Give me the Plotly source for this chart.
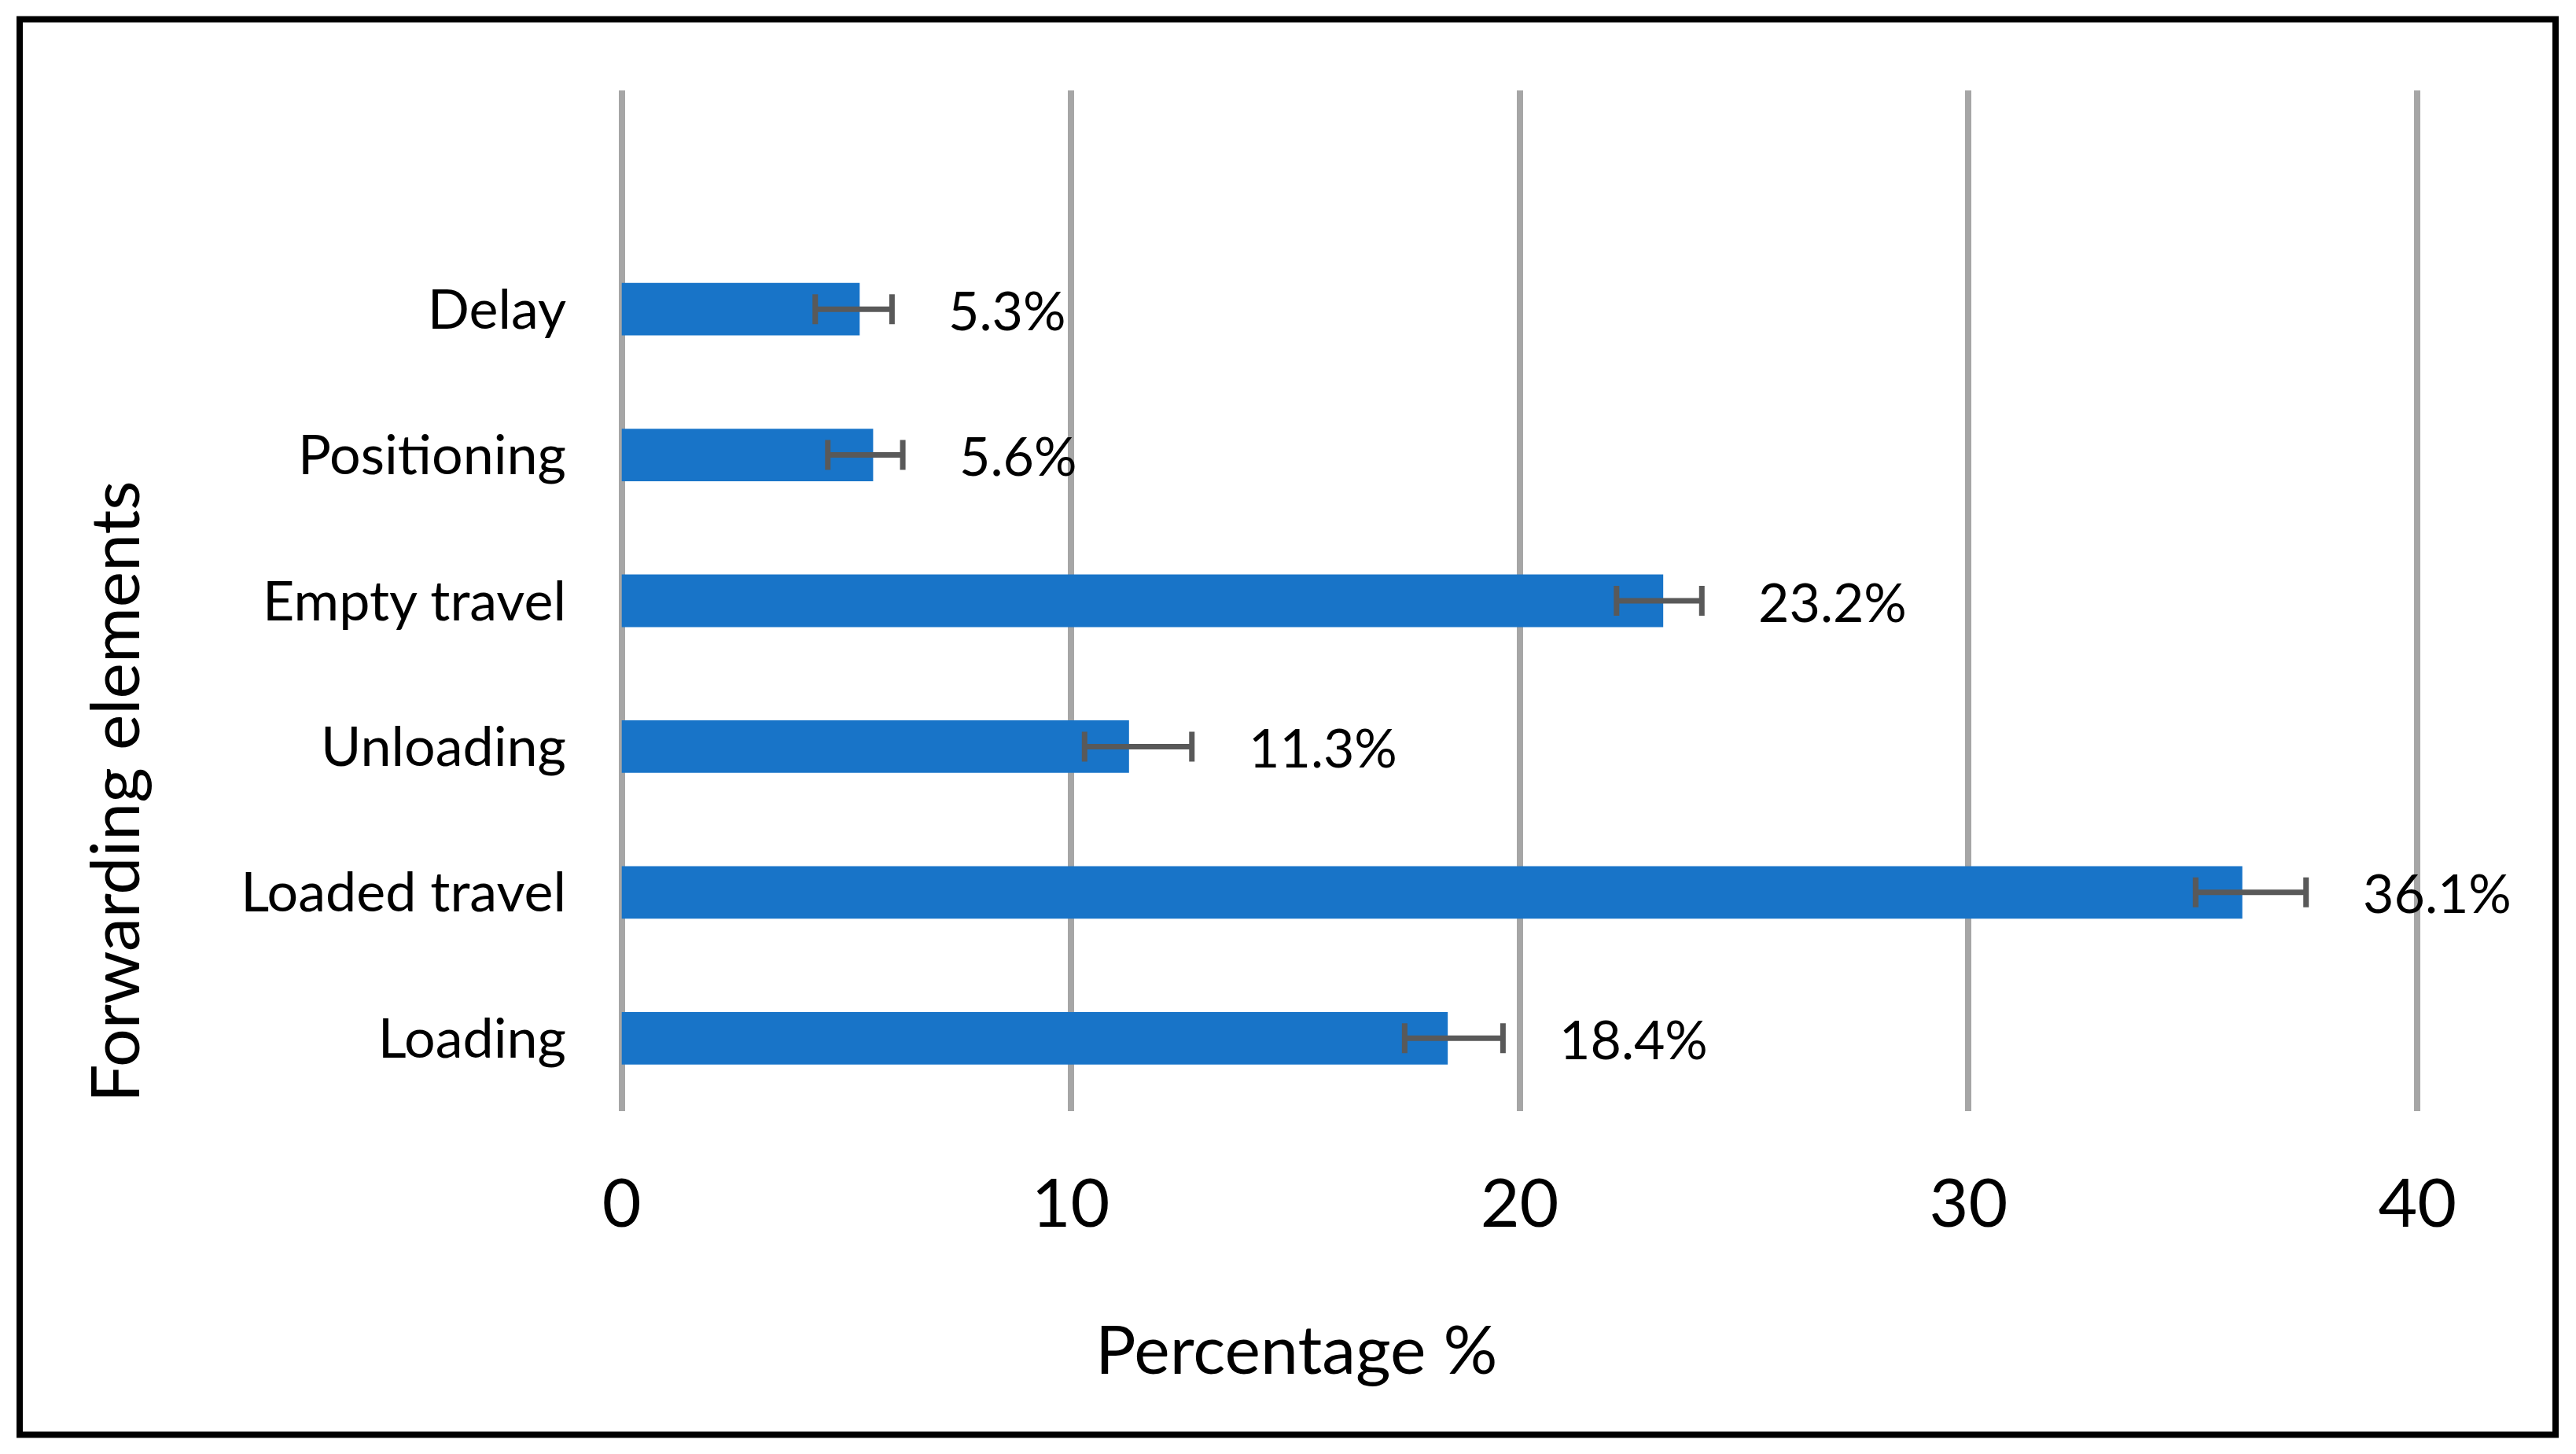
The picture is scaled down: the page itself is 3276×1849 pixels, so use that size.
import plotly.graph_objects as go

# ---- data ----
categories = ["Loading", "Loaded travel", "Unloading", "Empty travel", "Positioning", "Delay"]
values = [18.4, 36.1, 11.3, 23.2, 5.6, 5.3]
err_plus = [1.23, 1.42, 1.40, 0.86, 0.66, 0.72]
err_minus = [0.96, 1.04, 0.99, 1.04, 1.01, 0.99]
value_labels = ["18.4%", "36.1%", "11.3%", "23.2%", "5.6%", "5.3%"]
x_ticks = [0, 10, 20, 30, 40]
x_title = "Percentage %"
y_title = "Forwarding elements"

W, H = 3276, 1849
OFF = 8  # page body margin
ML, MR, MT, MB = 789 - OFF, 200 + OFF, 115 - OFF, 436 + OFF
PW = W - ML - MR
PH = H - MT - MB

FONT = "Lato"
BAR_COLOR = "#1874C8"

fig = go.Figure()
fig.add_trace(go.Bar(
    y=categories,
    x=values,
    orientation="h",
    width=0.36,
    marker=dict(color=BAR_COLOR, line=dict(width=0)),
    error_x=dict(type="data", symmetric=False, array=err_plus, arrayminus=err_minus,
                 color="#595959", thickness=7, width=19),
    showlegend=False,
    hoverinfo="skip",
))

annotations = []
for c, v, p, t in zip(categories, values, err_plus, value_labels):
    annotations.append(dict(
        x=v + p, y=c, xref="x", yref="y", text=t, showarrow=False,
        xanchor="left", yanchor="middle", xshift=70,
        font=dict(family=FONT, size=68, color="black"),
    ))

def px_x(px):
    return (px - OFF - ML) / PW

def px_y(py):
    return (H - MB - (py - OFF)) / PH

annotations.append(dict(
    x=px_x(1648), y=px_y(1713), xref="paper", yref="paper", text=x_title,
    showarrow=False, xanchor="center", yanchor="middle",
    font=dict(family=FONT, size=86, color="black"),
))
annotations.append(dict(
    x=px_x(143), y=px_y(1007), xref="paper", yref="paper", text=y_title,
    showarrow=False, xanchor="center", yanchor="middle", textangle=-90,
    font=dict(family=FONT, size=86, color="black"),
))

fig.update_layout(
    width=W, height=H,
    margin=dict(l=ML, r=MR, t=MT, b=MB, pad=0),
    paper_bgcolor="white",
    plot_bgcolor="white",
    annotations=annotations,
    shapes=[dict(
        type="rect", xref="paper", yref="paper",
        x0=px_x(25), x1=px_x(3250), y0=px_y(24.5), y1=px_y(1824.5),
        line=dict(color="black", width=8), fillcolor="rgba(0,0,0,0)", layer="below",
    )],
)

fig.update_xaxes(
    range=[-0.03, 40.03],
    tickvals=x_ticks,
    ticktext=[str(v) for v in x_ticks],
    showgrid=True, gridcolor="#A6A6A6", gridwidth=7.5,
    zeroline=False, showline=False,
    ticks="", ticklabelstandoff=60,
    tickfont=dict(family=FONT, size=86, color="black"),
)
fig.update_yaxes(
    type="category",
    categoryorder="array", categoryarray=categories,
    range=[-0.5, 6.5],
    showgrid=False, zeroline=False, showline=False,
    ticks="", ticklabelstandoff=68,
    tickfont=dict(family=FONT, size=70, color="black"),
)

fig.write_html("out.html")
